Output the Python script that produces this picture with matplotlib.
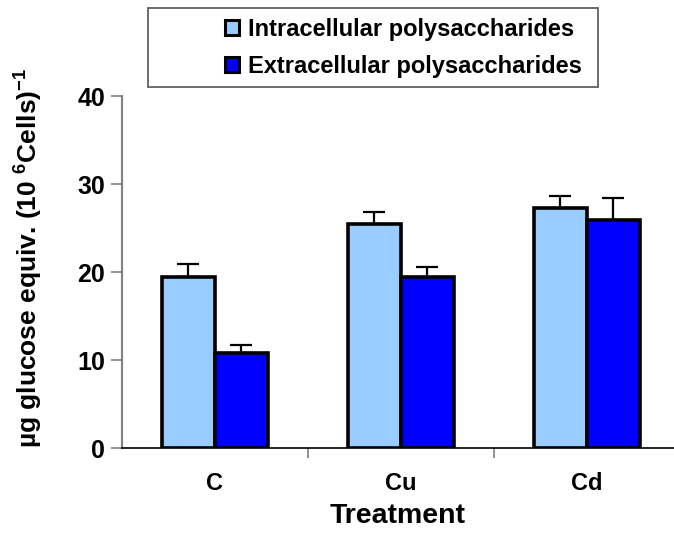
import matplotlib
matplotlib.use("Agg")
import matplotlib.pyplot as plt
import numpy as np
from matplotlib.patches import Patch, Rectangle

categories = ["C", "Cu", "Cd"]
intra = [19.4, 25.5, 27.3]
intra_err = [1.5, 1.3, 1.3]
extra = [10.8, 19.4, 25.9]
extra_err = [0.9, 1.2, 2.5]

plt.rcParams['font.family'] = ['Liberation Sans', 'DejaVu Sans']
plt.rcParams['font.weight'] = 'bold'
plt.rcParams['mathtext.fontset'] = 'custom'
plt.rcParams['mathtext.rm'] = 'Liberation Sans:bold'
plt.rcParams['mathtext.bf'] = 'Liberation Sans:bold'
plt.rcParams['mathtext.default'] = 'bf'

W, H = 674, 533
fig = plt.figure(figsize=(W/100, H/100), dpi=100)
ax = fig.add_axes([122/W, 1-448/H, (W-122)/W, (448-96)/H])

x = np.arange(len(categories))
w = 0.285
light = "#99ccff"
dark = "#0000ff"
ax.bar(x - w/2, intra, w, color=light, edgecolor="black", linewidth=2.6, zorder=2)
ax.bar(x + w/2, extra, w, color=dark, edgecolor="black", linewidth=2.6, zorder=2)
ax.errorbar(x - w/2, intra, yerr=[np.zeros(3), intra_err], fmt="none", ecolor="black",
            elinewidth=1.6, capsize=8, capthick=1.6, zorder=1)
ax.errorbar(x + w/2, extra, yerr=[np.zeros(3), extra_err], fmt="none", ecolor="black",
            elinewidth=1.6, capsize=8, capthick=1.6, zorder=1)

ax.set_xlim(-0.5, 2.468)
ax.set_ylim(0, 40)
ax.set_yticks([0, 10, 20, 30, 40])
ax.set_xticks(x)
ax.set_xticklabels(categories, fontsize=17, fontweight="bold")
ax.set_xticks([0.5, 1.5], minor=True)
ax.tick_params(axis="x", which="major", length=0, pad=17)
ax.tick_params(axis="x", which="minor", length=7, color="#808080", width=1.2)
ax.tick_params(axis="y", length=8, color="#808080", width=1.2, labelsize=18, pad=4)
for lab in ax.get_yticklabels():
    lab.set_fontweight("bold")

for s in ["top", "right"]:
    ax.spines[s].set_visible(False)
ax.spines["left"].set_color("#808080")
ax.spines["left"].set_linewidth(1.5)
ax.spines["bottom"].set_color("black")
ax.spines["bottom"].set_linewidth(1.2)

ax.set_xlabel("Treatment", fontsize=20.5, fontweight="bold", labelpad=6)
ax.set_ylabel(r"µg glucose equiv. (10 $^{6}$Cells)$^{-1}$", fontsize=19, fontweight="bold")
ax.yaxis.set_label_coords((45 - 122)/(W-122), (448-258)/(448-96))

# legend frame
fig.patches.append(Rectangle((148/W, 1-87/H), (598-148)/W, (87-8)/H, transform=fig.transFigure,
                             facecolor="white", edgecolor="#606060", linewidth=1.3, zorder=0))
handles = [Patch(facecolor=light, edgecolor="black", linewidth=2.2),
           Patch(facecolor=dark, edgecolor="black", linewidth=2.2)]
leg = fig.legend(handles, ["Intracellular polysaccharides", "Extracellular polysaccharides"],
                 loc="upper left", bbox_to_anchor=(214/W, 1-7/H), frameon=False,
                 prop={"weight": "bold", "size": 17}, handlelength=0.6, handleheight=0.6,
                 borderpad=0.45, labelspacing=0.6, handletextpad=0.4, borderaxespad=0)

fig.savefig("out.png", dpi=100)
